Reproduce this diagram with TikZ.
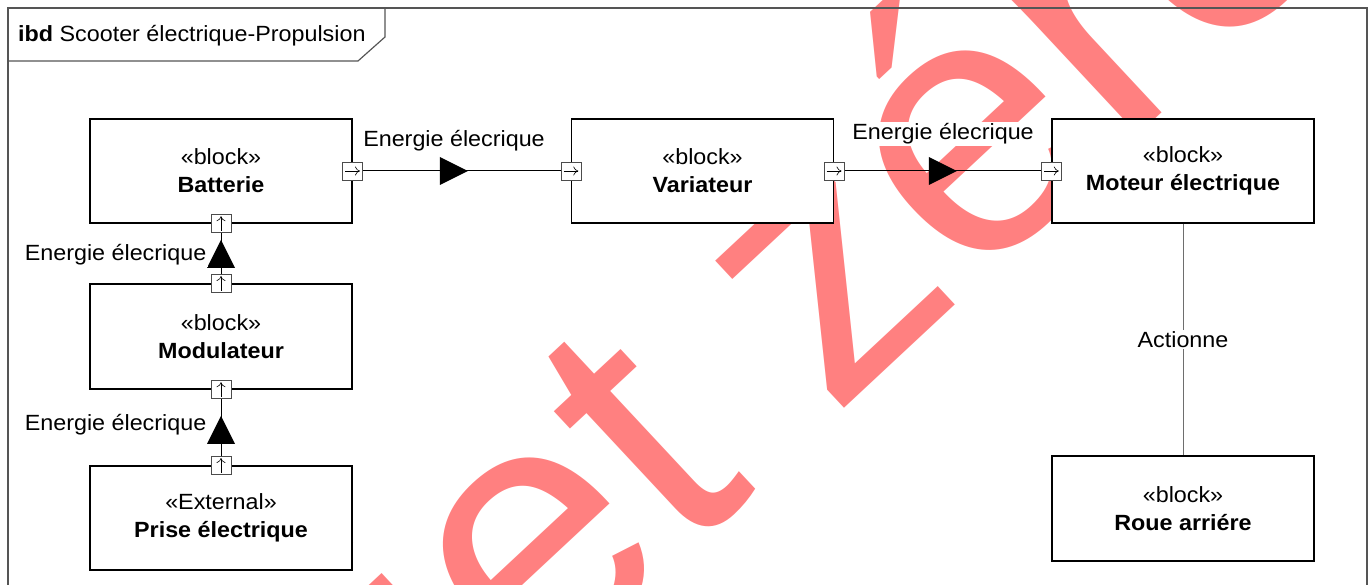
\documentclass[tikz,border=0pt]{standalone}
\usepackage{fontspec}
\setmainfont[FakeStretch=1.06]{Liberation Sans}
\newfontfamily\wmfont{Liberation Sans}
\usetikzlibrary{decorations.markings,arrows.meta}

\definecolor{wmred}{RGB}{255,128,128}
\definecolor{framegray}{RGB}{85,85,85}
\definecolor{linkgray}{RGB}{110,110,110}

\tikzset{
  block/.style={draw=black, line width=1.2pt, fill=white,
    minimum width=262pt, minimum height=104pt, align=center,
    font=\fontsize{22}{28}\selectfont, inner sep=0pt},
  port/.style={draw=black!70, line width=0.8pt, fill=white,
    minimum width=20pt, minimum height=18pt, inner sep=0pt},
  portarrow/.style={-{To[length=5pt,width=9pt]}, line width=0.6pt},
  flow/.style={line width=1pt, postaction={decorate},
    decoration={markings, mark=at position #1 with
      {\fill[black] (-14pt,-14pt) -- (14pt,0pt) -- (-14pt,14pt) -- cycle;}}},
  lbl/.style={font=\fontsize{22}{28}\selectfont, fill=white, inner sep=1.5pt},
  watermark/.style={text=wmred, inner sep=0pt, anchor=base west,
    rotate=43, font=\wmfont\fontsize{370}{400}\selectfont}
}

\begin{document}
\begin{tikzpicture}[x=1pt, y=1pt]
\useasboundingbox (0,0) rectangle (1370,-585);

% watermark behind the diagram
\begin{scope}
  \clip (0,0) rectangle (1370,-585);
  \node[watermark] (wm) at (142,-1064) {Sujet zéro};
\end{scope}

% diagram frame and title tab
\draw[framegray, line width=1.2pt] (8,-600) -- (8,-8) -- (1367,-8) -- (1367,-600);
\draw[framegray, line width=1.2pt] (8,-61) -- (358,-61) -- (385,-37) -- (385,-8);
\node[anchor=base west, inner sep=0pt, font=\fontsize{22}{28}\selectfont] (title)
  at (18,-42) {\textbf{ibd} Scooter électrique-Propulsion};

% blocks
\node[block] (bat)  at (221,-171)    {«block»\\\textbf{Batterie}};
\node[block] (var)  at (702.5,-171)  {«block»\\\textbf{Variateur}};
\node[block] (mot)  at (1183,-171)   {«block»\\\textbf{Moteur électrique}};
\node[block, minimum height=105pt] (mod) at (221,-336.5) {«block»\\\textbf{Modulateur}};
\node[block] (pri)  at (221,-518)    {«External»\\\textbf{Prise électrique}};
\node[block, minimum height=105pt] (roue) at (1183,-508.5) {«block»\\\textbf{Roue arriére}};

% association
\draw[linkgray, line width=1pt] (mot.south) -- node[lbl, text=black] (act) {Actionne} (roue.north);

% ports
\node[port] (batOut) at (bat.east)  {};
\node[port] (varIn)  at (var.west)  {};
\node[port] (varOut) at (var.east)  {};
\node[port] (motIn)  at (mot.west)  {};
\node[port] (batIn)  at (bat.south) {};
\node[port] (modOut) at (mod.north) {};
\node[port] (modIn)  at (mod.south) {};
\node[port] (priOut) at (pri.north) {};

\foreach \p in {batOut,varIn,varOut,motIn}
  \draw[portarrow] ([xshift=3pt]\p.west) -- ([xshift=-3pt]\p.east);
\foreach \p in {batIn,modOut,modIn,priOut}
  \draw[portarrow] ([yshift=2pt]\p.south) -- ([yshift=-2pt]\p.north);

% item flows
\draw[flow=0.46] (batOut.east) -- (varIn.west);
\draw[flow=0.5]  (varOut.east) -- (motIn.west);
\draw[flow=0.49] (modOut.north) -- (batIn.south);
\draw[flow=0.46] (priOut.north) -- (modIn.south);

% flow labels
\node[lbl] (l1) at (454,-141) {Energie élecrique};
\node[lbl] (l2) at (943,-134) {Energie élecrique};
\node[lbl, anchor=east] (l3) at (208,-255) {Energie élecrique};
\node[lbl, anchor=east] (l4) at (208,-425) {Energie élecrique};
\end{tikzpicture}
\end{document}
